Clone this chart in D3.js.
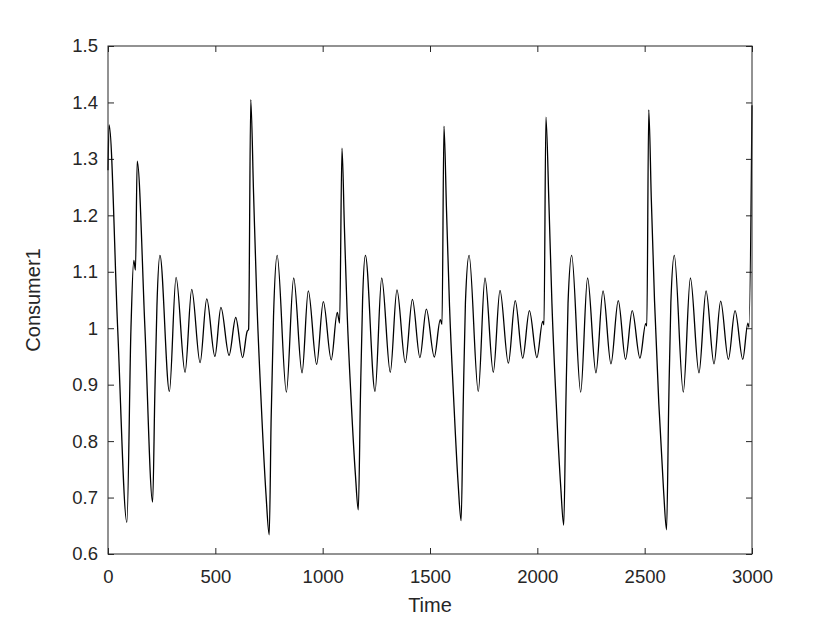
<!DOCTYPE html>
<html>
<head>
<meta charset="utf-8">
<script src="https://cdn.jsdelivr.net/npm/d3@7"></script>
<style>
  body { margin: 0; background: #fff; }
  text { font-family: "Liberation Sans", Arial, Helvetica, sans-serif; fill: #262626; }
</style>
</head>
<body>
<script>
// values (extrema plus a few points on the steep flanks), one line per spike cycle
var time = [
  0, 5, 45, 88, 107, 120, 128, 136, 172, 208, 218, 228, 242, 286, 317, 359, 390, 429, 460, 498, 526, 564, 595, 627, 648, 655,
  665, 678, 693, 714, 736, 751, 760, 771, 788, 831, 865, 904, 933, 972, 1003, 1040, 1068, 1079,
  1090, 1101, 1114, 1133, 1153, 1166, 1176, 1186, 1199, 1244, 1275, 1315, 1346, 1385, 1418, 1453, 1483, 1520, 1548, 1556,
  1565, 1577, 1591, 1611, 1631, 1645, 1655, 1665, 1682, 1725, 1756, 1795, 1826, 1865, 1897, 1932, 1963, 1998, 2025, 2031,
  2040, 2054, 2068, 2088, 2109, 2123, 2133, 2143, 2160, 2202, 2234, 2273, 2306, 2343, 2377, 2411, 2442, 2478, 2505, 2510,
  2519, 2531, 2546, 2566, 2588, 2602, 2612, 2622, 2638, 2680, 2713, 2753, 2786, 2823, 2854, 2890, 2921, 2957, 2981, 2986, 3000
];
var consumer1 = [
  1.28, 1.36, 1.0, 0.656, 1.0, 1.12, 1.103, 1.296, 1.0, 0.692, 0.88, 1.04, 1.129, 0.888, 1.09, 0.922, 1.069, 0.939, 1.052, 0.95, 1.037, 0.952, 1.019, 0.948, 0.994, 0.998,
  1.405, 1.24, 1.053, 0.865, 0.706, 0.634, 0.84, 1.02, 1.129, 0.887, 1.089, 0.921, 1.066, 0.936, 1.047, 0.944, 1.028, 1.009,
  1.319, 1.182, 1.027, 0.870, 0.738, 0.678, 0.88, 1.05, 1.129, 0.888, 1.089, 0.922, 1.068, 0.939, 1.051, 0.948, 1.034, 0.949, 1.015, 1.007,
  1.358, 1.208, 1.039, 0.869, 0.725, 0.659, 0.87, 1.045, 1.129, 0.888, 1.089, 0.922, 1.067, 0.938, 1.049, 0.947, 1.031, 0.948, 1.012, 1.006,
  1.374, 1.221, 1.044, 0.867, 0.719, 0.651, 0.867, 1.044, 1.129, 0.887, 1.089, 0.921, 1.066, 0.937, 1.049, 0.945, 1.031, 0.947, 1.008, 1.004,
  1.387, 1.228, 1.048, 0.866, 0.713, 0.643, 0.865, 1.045, 1.129, 0.887, 1.089, 0.921, 1.066, 0.937, 1.048, 0.945, 1.031, 0.945, 1.009, 1.002, 1.395
];
var xTicks = [0, 500, 1000, 1500, 2000, 2500, 3000];
var yTicks = [0.6, 0.7, 0.8, 0.9, 1.0, 1.1, 1.2, 1.3, 1.4, 1.5];
var yTickLabels = ["0.6", "0.7", "0.8", "0.9", "1", "1.1", "1.2", "1.3", "1.4", "1.5"];

var width = 830;
var height = 623;
var plotL = 108, plotR = 752, plotT = 46, plotB = 554;

var svg = d3.select("body").append("svg")
  .attr("width", width)
  .attr("height", height);

var x = d3.scaleLinear().domain([0, 3000]).range([plotL, plotR]);
var y = d3.scaleLinear().domain([0.6, 1.5]).range([plotB, plotT]);

var pts = time.map(function(t, i){ return [t, consumer1[i]]; });

var line = d3.line()
  .x(function(d){ return x(d[0]); })
  .y(function(d){ return y(d[1]); })
  .curve(d3.curveMonotoneX);

// axes: ticks point inward, on all four sides
var gx = svg.append("g").attr("transform", "translate(0," + plotB + ")")
  .call(d3.axisBottom(x).tickValues(xTicks).tickSize(-6).tickPadding(16).tickFormat(d3.format("d")));
var gxt = svg.append("g").attr("transform", "translate(0," + plotT + ")")
  .call(d3.axisTop(x).tickValues(xTicks).tickSize(-6).tickFormat(""));
var gy = svg.append("g").attr("transform", "translate(" + plotL + ",0)")
  .call(d3.axisLeft(y).tickValues(yTicks).tickSize(-6).tickPadding(10)
    .tickFormat(function(d, i){ return yTickLabels[i]; }));
var gyr = svg.append("g").attr("transform", "translate(" + plotR + ",0)")
  .call(d3.axisRight(y).tickValues(yTicks).tickSize(-6).tickFormat(""));

[gx, gxt, gy, gyr].forEach(function(g){
  g.select(".domain").remove();
  g.selectAll("line").attr("stroke", "#262626").attr("stroke-width", 1);
  g.selectAll("text").attr("font-size", 18.5).attr("fill", "#262626")
    .style("font-family", "'Liberation Sans', Arial, sans-serif");
});

svg.append("path")
  .datum(pts)
  .attr("d", line)
  .attr("fill", "none")
  .attr("stroke", "#000")
  .attr("stroke-width", 1.3)
  .attr("stroke-linejoin", "round");

svg.append("rect")
  .attr("x", plotL).attr("y", plotT)
  .attr("width", plotR - plotL).attr("height", plotB - plotT)
  .attr("fill", "none")
  .attr("stroke", "#262626")
  .attr("stroke-width", 1);

svg.append("text")
  .attr("x", (plotL + plotR) / 2)
  .attr("y", 612)
  .attr("text-anchor", "middle")
  .attr("font-size", 20)
  .text("Time");

svg.append("text")
  .attr("transform", "translate(40," + (plotT + plotB) / 2 + ") rotate(-90)")
  .attr("text-anchor", "middle")
  .attr("font-size", 20)
  .text("Consumer1");
</script>
</body>
</html>
